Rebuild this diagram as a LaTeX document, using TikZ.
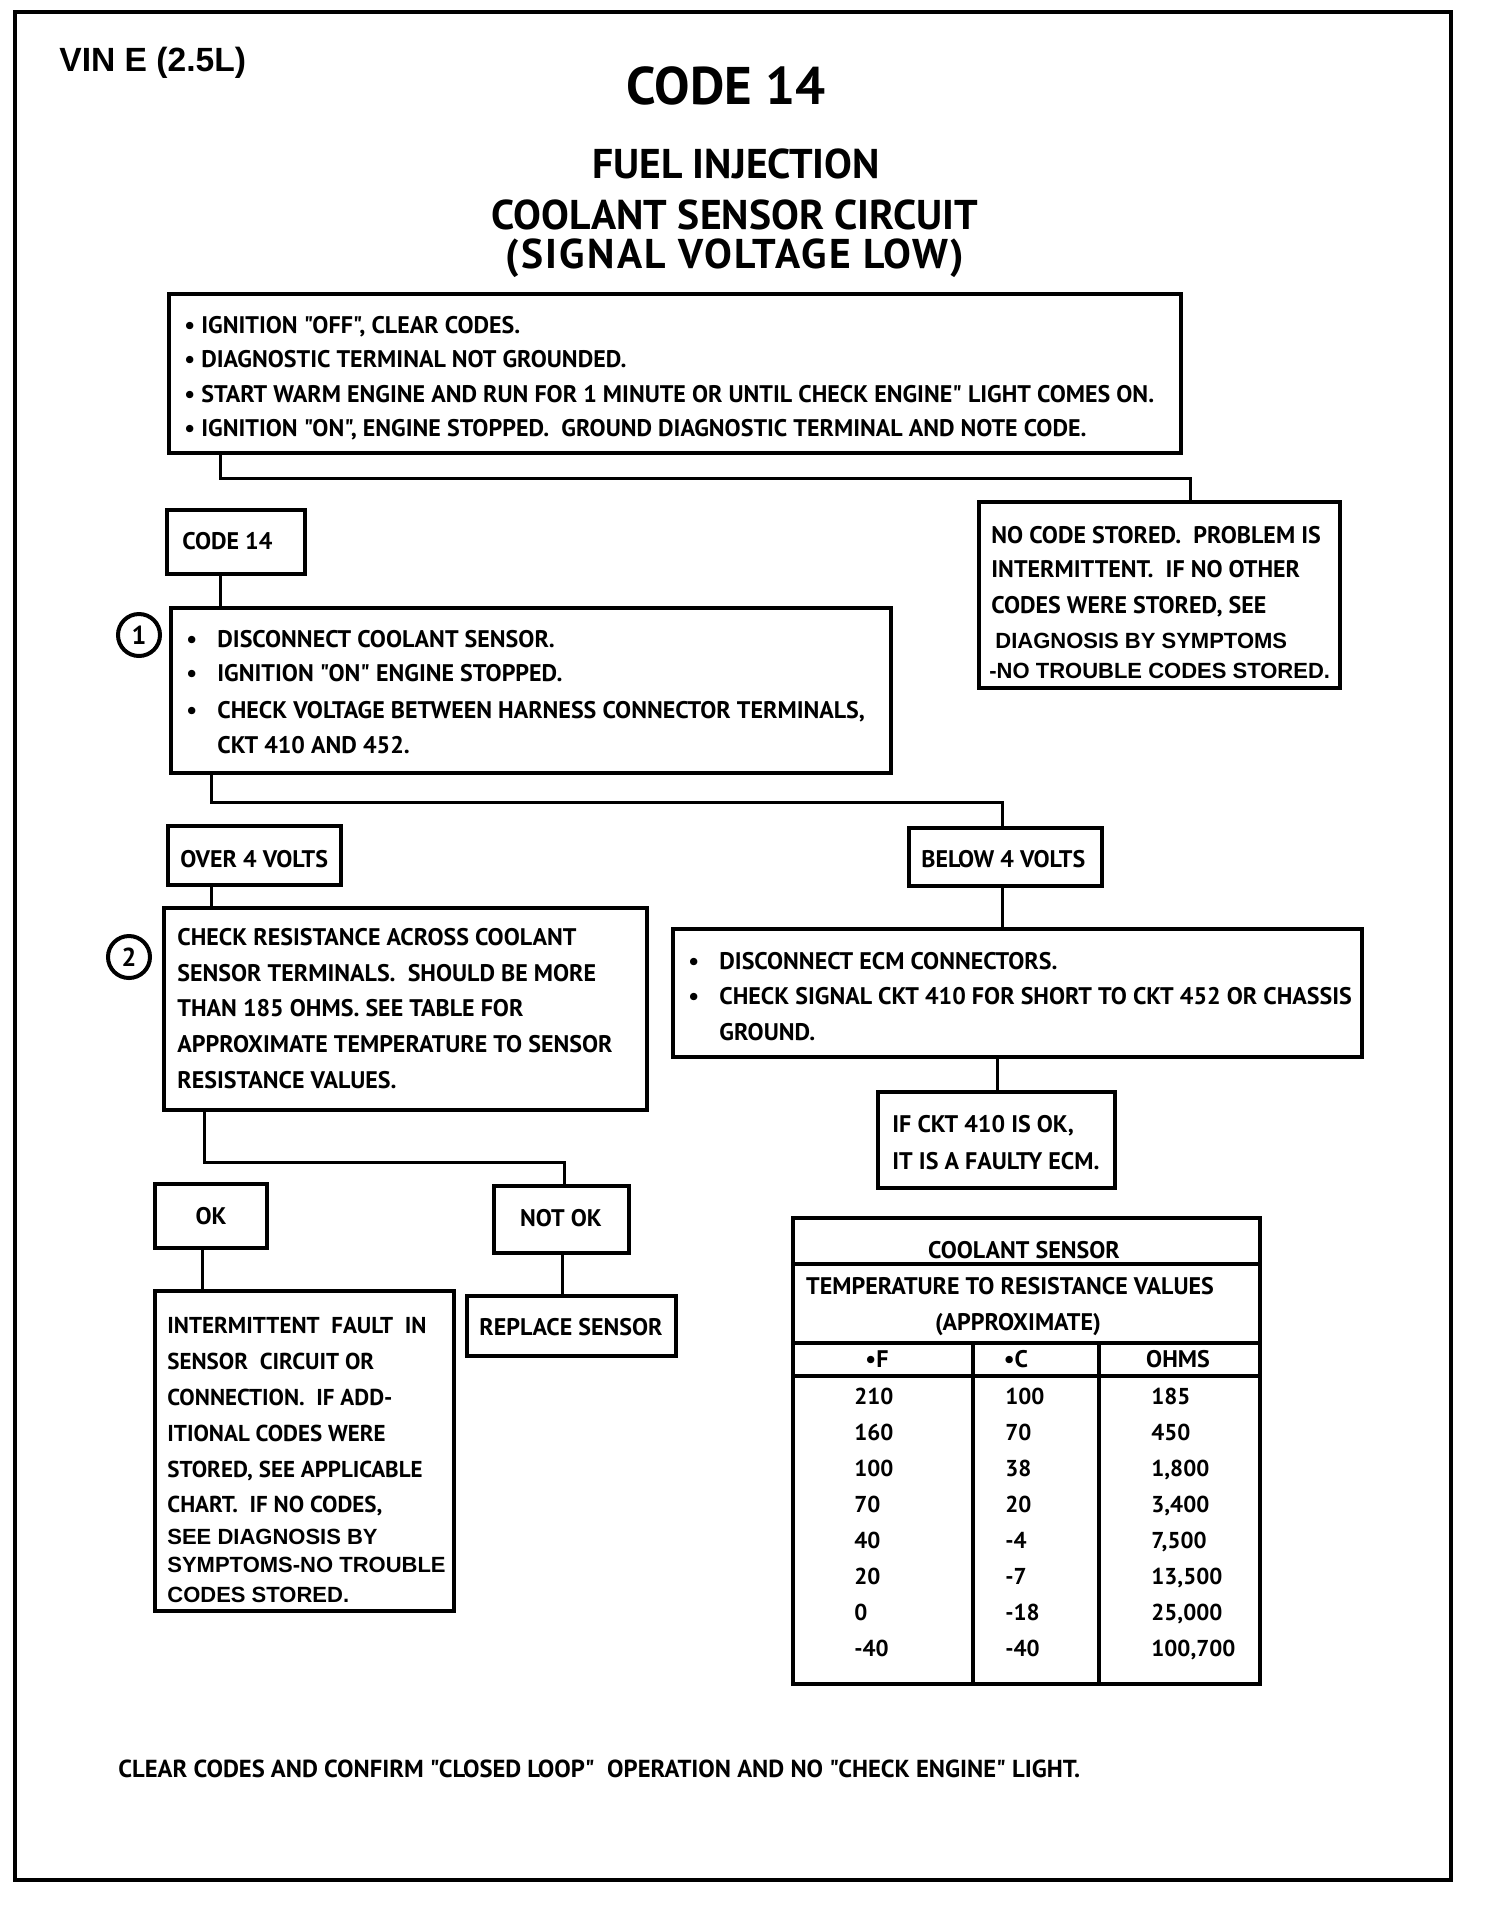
\documentclass[tikz,border=0pt]{standalone}
\usepackage{fontspec}
\newfontfamily\pt{PT Sans}
\newfontfamily\ptls{PT Sans}[LetterSpace=5.5]
\newfontfamily\arialf{Liberation Sans}
\usetikzlibrary{fit}
\tikzset{
  box/.style={draw, line width=2pt, inner sep=0pt, outer sep=0pt},
  conn/.style={line width=1.5pt},
  txt/.style={inner sep=0pt, anchor=base west, font=\pt\bfseries\fontsize{12}{14}\selectfont},
  ctxt/.style={txt, anchor=base},
  ntxt/.style={txt, font=\pt\bfseries\fontsize{11.5}{14}\selectfont},
  atxt/.style={inner sep=0pt, anchor=base west, font=\arialf\bfseries\fontsize{11}{13}\selectfont},
  bul/.style={txt},
  num/.style={draw, circle, line width=2pt, minimum size=21pt, inner sep=0pt, font=\pt\bfseries\fontsize{13}{15}\selectfont},
  ttl/.style={inner sep=0pt, anchor=base, font=\pt\bfseries\fontsize{20.8}{24}\selectfont},
}
\begin{document}
\begin{tikzpicture}[x=0.5pt,y=-0.5pt]
\useasboundingbox (0,0) rectangle (1504,1924);
\fill[white] (0,0) rectangle (1504,1924);
% outer frame
\node[box, line width=2.2pt, fit={(15,12) (1451,1880)}] (frame) {};
% titles
\node[inner sep=0pt, anchor=base west, font=\arialf\bfseries\fontsize{16.8}{19}\selectfont] (vin) at (59,71) {VIN E (2.5L)};
\node[ttl, font=\pt\bfseries\fontsize{26.5}{30}\selectfont] (code) at (726,104) {CODE 14};
\node[ttl] (fuel) at (736,178) {FUEL INJECTION};
\node[ttl] (cool) at (735,229) {COOLANT SENSOR CIRCUIT};
\node[ttl, font=\ptls\bfseries\fontsize{20.8}{24}\selectfont] (sig) at (735,268) {(SIGNAL VOLTAGE LOW)};
% box 1
\node[box, fit={(169,294) (1181,453)}] (b1) {};
\node[txt] (b1a) at (184,333) {• IGNITION "OFF", CLEAR CODES.};
\node[txt] (b1b) at (184,367) {• DIAGNOSTIC TERMINAL NOT GROUNDED.};
\node[txt] (b1c) at (184,402) {• START WARM ENGINE AND RUN FOR 1 MINUTE OR UNTIL CHECK ENGINE" LIGHT COMES ON.};
\node[txt] (b1d) at (184,436) {• IGNITION "ON", ENGINE STOPPED.\ \ GROUND DIAGNOSTIC TERMINAL AND NOTE CODE.};
% code 14 box
\node[box, fit={(167,510) (305,574)}] (c14) {};
\node[txt] (c14t) at (182,549) {CODE 14};
% no code box
\node[box, fit={(979,502) (1340,688)}] (nc) {};
\node[txt] (nca) at (991,543) {NO CODE STORED.\ \ PROBLEM IS};
\node[txt] (ncb) at (991,577) {INTERMITTENT.\ \ IF NO OTHER};
\node[txt] (ncc) at (991,613) {CODES WERE STORED, SEE};
\node[atxt] (ncd) at (995,648) {DIAGNOSIS BY SYMPTOMS};
\node[atxt] (nce) at (989,678) {-NO TROUBLE CODES STORED.};
% box step 1
\node[num] (n1) at (139,635) {1};
\node[box, fit={(171,608) (891,773)}] (s1) {};
\node[bul] (s1ba) at (186,647) {•};
\node[txt] (s1a) at (217,647) {DISCONNECT COOLANT SENSOR.};
\node[bul] (s1bb) at (186,681) {•};
\node[txt] (s1b) at (217,681) {IGNITION "ON" ENGINE STOPPED.};
\node[bul] (s1bc) at (186,718) {•};
\node[txt] (s1c) at (217,718) {CHECK VOLTAGE BETWEEN HARNESS CONNECTOR TERMINALS,};
\node[txt] (s1d) at (217,753) {CKT 410 AND 452.};
% over / below
\node[box, fit={(168,826) (341,885)}] (ov) {};
\node[txt] (ovt) at (180,867) {OVER 4 VOLTS};
\node[box, fit={(909,828) (1102,886)}] (bl) {};
\node[txt] (blt) at (921,867) {BELOW 4 VOLTS};
% box step 2
\node[num] (n2) at (129,957) {2};
\node[box, fit={(164,908) (647,1110)}] (s2) {};
\node[txt] (s2a) at (177,945) {CHECK RESISTANCE ACROSS COOLANT};
\node[txt] (s2b) at (177,981) {SENSOR TERMINALS.\ \ SHOULD BE MORE};
\node[txt] (s2c) at (177,1016) {THAN 185 OHMS. SEE TABLE FOR};
\node[txt] (s2d) at (177,1052) {APPROXIMATE TEMPERATURE TO SENSOR};
\node[txt] (s2e) at (177,1088) {RESISTANCE VALUES.};
% ECM box
\node[box, fit={(673,929) (1362,1057)}] (ecm) {};
\node[bul] (eba) at (688,969) {•};
\node[txt] (ea) at (719,969) {DISCONNECT ECM CONNECTORS.};
\node[bul] (ebb) at (688,1004) {•};
\node[txt] (eb) at (719,1004) {CHECK SIGNAL CKT 410 FOR SHORT TO CKT 452 OR CHASSIS};
\node[txt] (ec) at (719,1040) {GROUND.};
% IF CKT box
\node[box, fit={(878,1092) (1115,1188)}] (ifc) {};
\node[txt] (ifa) at (892,1132) {IF CKT 410 IS OK,};
\node[txt] (ifb) at (892,1169) {IT IS A FAULTY ECM.};
% OK / NOT OK
\node[box, fit={(155,1184) (267,1248)}] (ok) {};
\node[ctxt] (okt) at (211,1224) {OK};
\node[box, fit={(494,1186) (629,1253)}] (nok) {};
\node[ctxt] (nokt) at (561,1226) {NOT OK};
\node[box, fit={(467,1296) (676,1356)}] (rep) {};
\node[ctxt] (rept) at (571,1335) {REPLACE SENSOR};
% intermittent box
\node[box, fit={(155,1291) (454,1611)}] (int) {};
\node[ntxt] (ia) at (167,1333) {INTERMITTENT\ \ FAULT\ \ IN};
\node[ntxt] (ib) at (167,1369) {SENSOR\ \ CIRCUIT OR};
\node[ntxt] (ic) at (167,1405) {CONNECTION.\ \ IF ADD-};
\node[ntxt] (id) at (167,1441) {ITIONAL CODES WERE};
\node[ntxt] (ie) at (167,1477) {STORED, SEE APPLICABLE};
\node[ntxt] (if) at (167,1512) {CHART.\ \ IF NO CODES,};
\node[atxt] (ig) at (167,1544) {SEE DIAGNOSIS BY};
\node[atxt] (ih) at (167,1572) {SYMPTOMS-NO TROUBLE};
\node[atxt] (ii) at (167,1602) {CODES STORED.};
% table
\node[box, fit={(793,1218) (1260,1684)}] (tbl) {};
\coordinate (h1) at (0,1264);
\coordinate (h2) at (0,1343);
\coordinate (h3) at (0,1376);
\coordinate (v1) at (973,0);
\coordinate (v2) at (1099,0);
\draw[line width=2pt] (tbl.west |- h1) -- (tbl.east |- h1);
\draw[line width=2pt] (tbl.west |- h2) -- (tbl.east |- h2);
\draw[line width=2pt] (tbl.west |- h3) -- (tbl.east |- h3);
\draw[line width=2pt] (v1 |- h2) -- (v1 |- tbl.south);
\draw[line width=2pt] (v2 |- h2) -- (v2 |- tbl.south);
\node[ctxt] (tha) at (1024,1258) {COOLANT SENSOR};
\node[ctxt] (thb) at (1010,1294) {TEMPERATURE TO RESISTANCE VALUES};
\node[ctxt] (thc) at (1018,1330) {(APPROXIMATE)};
\node[ctxt] (hf) at (877,1367) {•F};
\node[ctxt] (hc) at (1016,1367) {•C};
\node[ctxt] (ho) at (1178,1367) {OHMS};
\foreach \f/\c/\o [count=\i from 0] in {210/100/185, 160/70/450, 100/38/{1,800}, 70/20/{3,400}, 40/-4/{7,500}, 20/-7/{13,500}, 0/-18/{25,000}, -40/-40/{100,700}} {
  \pgfmathsetmacro{\yy}{1404+\i*36}
  \node[ntxt] (rf\i) at (854,\yy) {\f};
  \node[ntxt] (rc\i) at (1005,\yy) {\c};
  \node[ntxt] (ro\i) at (1151,\yy) {\o};
}
% footer
\node[txt, font=\pt\bfseries\fontsize{12.3}{14}\selectfont] (foot) at (118,1777) {CLEAR CODES AND CONFIRM "CLOSED LOOP"\ \ OPERATION AND NO "CHECK ENGINE" LIGHT.};
% connectors
\coordinate (j1) at (220,478);
\coordinate (j2) at (1190,478);
\draw[conn] (b1.south -| j1) -- (j1) -- (j2) -- (nc.north -| j2);
\draw[conn] (c14.south -| j1) -- (s1.north -| j1);
\coordinate (j3) at (211,802);
\coordinate (j4) at (1002,802);
\draw[conn] (s1.south -| j3) -- (j3) -- (j4) -- (bl.north -| j4);
\draw[conn] (ov.south -| j3) -- (s2.north -| j3);
\draw[conn] (bl.south -| j4) -- (ecm.north -| j4);
\coordinate (j5) at (997,0);
\draw[conn] (ecm.south -| j5) -- (ifc.north -| j5);
\coordinate (j6) at (204,1162);
\coordinate (j7) at (564,1162);
\draw[conn] (s2.south -| j6) -- (j6) -- (j7) -- (nok.north -| j7);
\coordinate (j8) at (202,0);
\draw[conn] (ok.south -| j8) -- (int.north -| j8);
\coordinate (j9) at (562,0);
\draw[conn] (nok.south -| j9) -- (rep.north -| j9);
\end{tikzpicture}
\end{document}
